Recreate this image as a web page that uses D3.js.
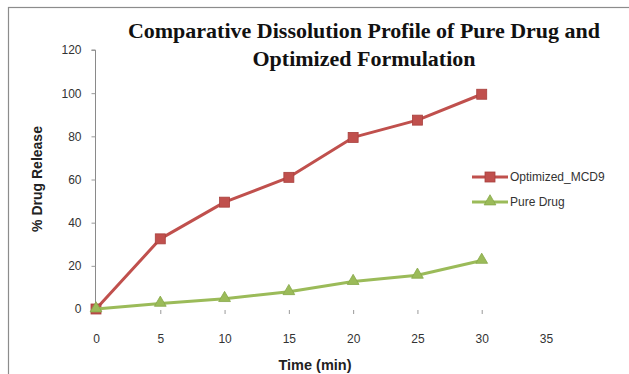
<!DOCTYPE html>
<html>
<head>
<meta charset="utf-8">
<script src="https://cdn.jsdelivr.net/npm/d3@7/dist/d3.min.js"></script>
<style>
  html, body { margin: 0; padding: 0; background: #fff; }
  svg { display: block; }
</style>
</head>
<body>
<svg id="chart" width="629" height="374"></svg>
<script>
// Dissolution time points (min) and % drug released
const timePoints = [0, 5, 10, 15, 20, 25, 30];
const optimizedMCD9 = [0, 32.5, 49.5, 61, 79.5, 87.5, 99.5];
const pureDrug = [0, 2.6, 4.8, 8, 12.7, 15.6, 22.5];
const seriesNames = ["Optimized_MCD9", "Pure Drug"];
const xTickValues = [0, 5, 10, 15, 20, 25, 30, 35];
const yTickValues = [0, 20, 40, 60, 80, 100, 120];
const titleLines = ["Comparative Dissolution Profile of Pure Drug and", "Optimized Formulation"];

const svg = d3.select("#chart");
const W = 629, H = 374;

// Outer chart frame
svg.append("rect")
  .attr("x", 8.5).attr("y", 7.5)
  .attr("width", W + 10).attr("height", H + 10)
  .attr("fill", "#fff").attr("stroke", "#8c8c8c").attr("stroke-width", 1.2);

const x = d3.scaleLinear().domain([0, 35]).range([96, 546]);
const y = d3.scaleLinear().domain([0, 120]).range([309, 50]);

const labelFont = "'Liberation Sans', Arial, sans-serif";

// Title
svg.append("g").selectAll("text").data(titleLines).join("text")
  .attr("x", 364).attr("y", (d, i) => 38 + i * 28)
  .attr("text-anchor", "middle")
  .attr("font-family", "'Liberation Serif', 'Times New Roman', serif")
  .attr("font-weight", "bold").attr("font-size", 22)
  .attr("fill", "#111")
  .text(d => d);

// Y axis
const yAxis = svg.append("g")
  .attr("transform", "translate(95.5,0)")
  .call(d3.axisLeft(y).tickValues(yTickValues).tickSize(4).tickPadding(10));
yAxis.select(".domain").attr("stroke", "#8a8a8a").attr("d", `M-4,${y(120)}H0V${y(0)}`);
yAxis.selectAll(".tick line").attr("stroke", "#9a9a9a");
yAxis.selectAll(".tick text")
  .attr("font-family", labelFont).attr("font-size", 12).attr("fill", "#333");

// X axis: tick labels with small tick marks, no axis line
const xAxis = svg.append("g")
  .attr("transform", "translate(0,310)")
  .call(d3.axisBottom(x).tickValues(xTickValues).tickSize(4).tickPadding(20));
xAxis.select(".domain").remove();
xAxis.selectAll(".tick line")
  .attr("stroke", d => d <= 30 ? "#9a9a9a" : "none");
xAxis.selectAll(".tick text")
  .attr("font-family", labelFont).attr("font-size", 12).attr("fill", "#333");

// Axis titles
svg.append("text")
  .attr("x", 315).attr("y", 370)
  .attr("text-anchor", "middle")
  .attr("font-family", labelFont).attr("font-weight", "bold").attr("font-size", 14.5)
  .attr("fill", "#222")
  .text("Time (min)");

svg.append("text")
  .attr("transform", "translate(42,179) rotate(-90)")
  .attr("text-anchor", "middle")
  .attr("font-family", labelFont).attr("font-weight", "bold").attr("font-size", 14)
  .attr("fill", "#222")
  .text("% Drug Release");

const red = "#C0504D", redDark = "#A8403D";
const green = "#9BBB59", greenDark = "#86A84A";

const line = d3.line().x(d => x(d[0])).y(d => y(d[1]));
const optData = timePoints.map((t, i) => [t, optimizedMCD9[i]]);
const pureData = timePoints.map((t, i) => [t, pureDrug[i]]);

// Optimized formulation series
svg.append("path").datum(optData)
  .attr("d", line).attr("fill", "none")
  .attr("stroke", red).attr("stroke-width", 3).attr("stroke-linejoin", "round");
svg.append("g").selectAll("rect").data(optData).join("rect")
  .attr("x", d => x(d[0]) - 5).attr("y", d => y(d[1]) - 5)
  .attr("width", 10).attr("height", 10)
  .attr("fill", red).attr("stroke", redDark).attr("stroke-width", 0.8);

// Pure drug series
const tri = d3.symbol().type(d3.symbolTriangle).size(60);
svg.append("path").datum(pureData)
  .attr("d", line).attr("fill", "none")
  .attr("stroke", green).attr("stroke-width", 3).attr("stroke-linejoin", "round");
svg.append("g").selectAll("path").data(pureData).join("path")
  .attr("transform", d => `translate(${x(d[0])},${y(d[1]) - 0.5})`)
  .attr("d", tri)
  .attr("fill", green).attr("stroke", greenDark).attr("stroke-width", 0.8);

// Legend
const legend = svg.append("g");
const legendRows = [
  { name: seriesNames[0], color: red, dark: redDark, marker: "square", y: 177 },
  { name: seriesNames[1], color: green, dark: greenDark, marker: "triangle", y: 202 }
];
legendRows.forEach(r => {
  legend.append("line")
    .attr("x1", 472).attr("x2", 508).attr("y1", r.y).attr("y2", r.y)
    .attr("stroke", r.color).attr("stroke-width", 3);
  if (r.marker === "square") {
    legend.append("rect")
      .attr("x", 485).attr("y", r.y - 5).attr("width", 10).attr("height", 10)
      .attr("fill", r.color).attr("stroke", r.dark).attr("stroke-width", 0.8);
  } else {
    legend.append("path")
      .attr("transform", `translate(490,${r.y - 0.5})`)
      .attr("d", tri)
      .attr("fill", r.color).attr("stroke", r.dark).attr("stroke-width", 0.8);
  }
  legend.append("text")
    .attr("x", 510).attr("y", r.y + 4)
    .attr("font-family", labelFont).attr("font-size", 12)
    .attr("fill", "#333")
    .text(r.name);
});
</script>
</body>
</html>
